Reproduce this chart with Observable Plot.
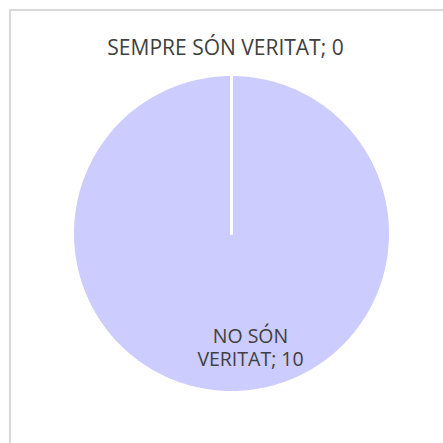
<!DOCTYPE html>
<html>
<head>
<meta charset="utf-8">
<script src="https://cdn.jsdelivr.net/npm/d3@7"></script>
<script src="https://cdn.jsdelivr.net/npm/@observablehq/plot@0.6"></script>
<style>
  html, body { margin: 0; padding: 0; background: #fff; }
  #chart { position: relative; width: 443px; height: 443px; overflow: hidden; }
  #frame { position: absolute; left: 9px; top: 9px; width: 600px; height: 600px; border: 2px solid #d9d9d9; box-sizing: border-box; pointer-events: none; }
</style>
</head>
<body>
<div id="chart"><div id="frame"></div></div>
<script>
const categories = ["SEMPRE SÓN VERITAT", "NO SÓN VERITAT"];
const values = [0, 10];
const labels = ["SEMPRE SÓN VERITAT; 0", "NO SÓN\nVERITAT; 10"];

const slices = d3.pie().sort(null).value(d => d)(values);

// polygon points for each slice (angle measured clockwise from 12 o'clock)
const pts = [];
slices.forEach((s, i) => {
  const n = Math.max(2, Math.ceil((s.endAngle - s.startAngle) / (Math.PI / 180)));
  pts.push({slice: i, x: 0, y: 0});
  for (let k = 0; k <= n; k++) {
    const a = s.startAngle + (s.endAngle - s.startAngle) * k / n;
    pts.push({slice: i, x: Math.sin(a), y: Math.cos(a)});
  }
});

const labelData = slices.map((s, i) => {
  const mid = (s.startAngle + s.endAngle) / 2;
  const r = values[i] === 0 ? 1.165 : 0.715;
  return {x: Math.sin(mid) * r, y: Math.cos(mid) * r, text: labels[i], i};
});

const plot = Plot.plot({
  width: 443,
  height: 443,
  margin: 0,
  x: {domain: [-1, 1], range: [72, 390], axis: null},
  y: {domain: [-1, 1], range: [392, 74], axis: null},
  style: {background: "transparent"},
  marks: [
    Plot.line(pts, {x: "x", y: "y", z: "slice", fill: "#ccccff", stroke: "#ffffff", strokeWidth: 3, curve: "linear-closed"}),
    Plot.text(labelData.filter(d => d.i === 0), {
      x: "x", y: "y", text: "text", dx: -6,
      fill: "#404040", fontSize: 21, fontFamily: "Open Sans", textAnchor: "middle"
    }),
    Plot.text(labelData.filter(d => d.i === 1), {
      x: "x", y: "y", text: "text", dx: 19,
      fill: "#404040", fontSize: 19.5, lineHeight: 1.15, fontFamily: "Open Sans", textAnchor: "middle"
    })
  ]
});
document.getElementById("chart").appendChild(plot);
plot.style.position = "absolute";
plot.style.left = "0px";
plot.style.top = "0px";
</script>
</body>
</html>
